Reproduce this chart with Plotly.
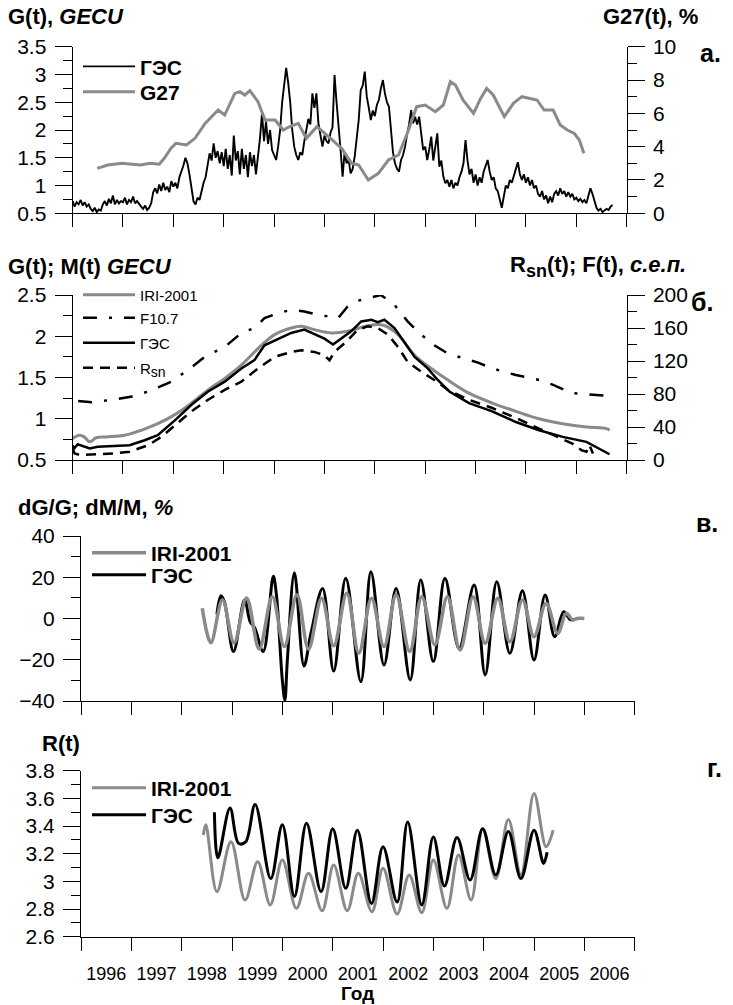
import plotly.graph_objects as go

W, H = 733, 1005
def fx(p): return p / W
def fy(p): return 1 - p / H

FONT = "Liberation Sans, Arial, sans-serif"
GRAY = "#8a8a8a"

# ---------------- panel а ----------------
a_ges_start = 1996.0
a_ges_step = 0.04
a_ges_vals = [
    0.72, 0.62, 0.70, 0.66, 0.74, 0.64, 0.70, 0.62, 0.66, 0.58, 0.54, 0.60, 0.52, 0.57, 0.55, 0.66, 0.72, 0.64, 0.76, 0.68, 0.82, 0.66, 0.74, 0.68, 0.72,
    0.70, 0.78, 0.66, 0.74, 0.70, 0.80, 0.68, 0.72, 0.66, 0.62, 0.58, 0.64, 0.56, 0.60, 0.68, 0.88, 0.95, 0.86, 1.02, 0.90, 1.05, 0.92, 0.98, 0.88, 1.08,
    0.98, 1.05, 0.95, 1.15, 1.25, 1.36, 1.50, 1.40, 1.20, 0.95, 0.72, 0.66, 0.78, 0.74, 0.90, 1.05, 1.15, 1.35, 1.58, 1.45, 1.76, 1.50, 1.62, 1.40, 1.60,
    1.35, 1.66, 1.30, 1.55, 1.18, 1.90, 1.45, 1.62, 1.20, 1.66, 1.30, 1.55, 1.15, 1.60, 1.35, 1.55, 1.20, 1.50, 1.85, 2.30, 1.80, 2.15, 1.75, 2.00, 1.64,
    1.55, 1.46, 1.70, 2.00, 2.50, 2.80, 3.12, 2.85, 2.50, 2.00, 1.70, 1.55, 1.46, 1.60, 1.55, 1.80, 2.00, 2.20, 2.10, 2.66, 2.40, 2.66, 2.12, 1.90, 1.70,
    1.90, 1.80, 1.76, 1.95, 2.05, 2.99, 2.50, 2.12, 1.64, 1.16, 1.60, 1.40, 1.46, 1.22, 1.30, 1.52, 1.80, 2.18, 2.72, 2.80, 3.05, 2.60, 2.40, 2.18, 2.35,
    2.25, 2.45, 2.54, 2.75, 2.90, 2.66, 2.50, 2.42, 1.95, 1.60, 1.40, 1.30, 1.25, 1.46, 1.55, 1.70, 1.92, 2.10, 2.36, 2.12, 2.24, 2.10, 2.24, 1.88, 1.64,
    1.70, 1.46, 1.65, 1.88, 1.45, 1.70, 1.94, 1.34, 1.45, 1.16, 1.04, 1.10, 0.98, 1.10, 0.95, 1.05, 1.00, 1.15, 1.25, 1.40, 1.82, 1.45, 1.20, 1.30, 1.05,
    1.20, 1.00, 1.15, 1.05, 1.25, 1.35, 1.46, 1.25, 1.10, 1.15, 0.95, 0.90, 0.75, 0.60, 0.80, 1.00, 0.95, 1.10, 1.05, 1.20, 1.30, 1.42, 1.20, 1.10, 1.20,
    1.05, 1.15, 1.00, 1.10, 0.95, 1.00, 0.85, 0.80, 0.90, 0.75, 0.82, 0.68, 0.80, 0.70, 0.85, 0.90, 0.82, 0.95, 0.85, 0.90, 0.80, 0.88, 0.80, 0.85, 0.75,
    0.78, 0.72, 0.76, 0.70, 0.74, 0.68, 0.80, 0.95, 0.85, 0.70, 0.60, 0.55, 0.58, 0.52, 0.55, 0.58, 0.56, 0.62, 0.65,
]
a_ges_years = [round(a_ges_start + i * a_ges_step, 3) for i in range(len(a_ges_vals))]

a_g27_years = [1996.49, 1996.70, 1996.98, 1997.16, 1997.35, 1997.54, 1997.72, 1997.82, 1997.95, 1998.05,
               1998.26, 1998.43, 1998.63, 1998.89, 1999.02, 1999.22, 1999.32, 1999.42, 1999.52, 1999.68,
               1999.82, 2000.02, 2000.18, 2000.31, 2000.48, 2000.64, 2000.85, 2001.08, 2001.34, 2001.54,
               2001.68, 2001.87, 2002.07, 2002.27, 2002.47, 2002.67, 2002.83, 2003.00, 2003.20, 2003.36,
               2003.50, 2003.60, 2003.75, 2003.96, 2004.10, 2004.22, 2004.35, 2004.57, 2004.75, 2004.92,
               2005.05, 2005.22, 2005.36, 2005.54, 2005.68, 2005.82, 2005.96, 2006.06, 2006.15]
a_g27_vals = [2.7, 2.9, 3.0, 2.95, 2.9, 3.0, 2.95, 3.3, 3.9, 4.2,
              4.1, 4.5, 5.4, 6.2, 5.9, 7.2, 7.3, 7.1, 7.36, 6.7,
              5.6, 5.6, 5.0, 5.2, 5.4, 4.5, 5.2, 4.6, 3.9, 3.0,
              2.9, 2.0, 2.4, 3.2, 3.5, 5.0, 6.4, 6.5, 6.1, 6.5,
              7.9, 7.7, 6.8, 6.0, 6.9, 7.5, 7.1, 5.8, 6.6, 7.0,
              6.9, 6.8, 6.2, 6.2, 5.3, 5.0, 4.8, 4.4, 3.6]

# ---------------- panel б ----------------
b_iri_years = [1996.00, 1996.13, 1996.23, 1996.34, 1996.47, 1996.67, 1997.03, 1997.36, 1997.69, 1998.03,
               1998.36, 1998.69, 1999.02, 1999.35, 1999.68, 2000.01, 2000.34, 2000.54, 2000.80, 2001.13,
               2001.46, 2001.80, 2001.99, 2002.19, 2002.46, 2002.79, 2003.12, 2003.45, 2003.87, 2004.33,
               2004.80, 2005.26, 2005.73, 2006.20, 2006.60, 2006.66]
b_iri_vals = [0.76, 0.80, 0.78, 0.72, 0.77, 0.78, 0.80, 0.86, 0.94, 1.05,
              1.19, 1.35, 1.49, 1.65, 1.85, 2.02, 2.10, 2.12, 2.08, 2.04,
              2.06, 2.12, 2.14, 2.13, 2.02, 1.77, 1.61, 1.47, 1.31, 1.19,
              1.09, 1.00, 0.94, 0.90, 0.88, 0.86]

b_ges_years = [1996.00, 1996.03, 1996.10, 1996.20, 1996.34, 1996.50, 1996.83, 1997.13, 1997.43, 1997.69,
               1998.03, 1998.36, 1998.69, 1999.02, 1999.35, 1999.61, 1999.81, 2000.01, 2000.34, 2000.60,
               2000.80, 2001.00, 2001.17, 2001.33, 2001.53, 2001.73, 2001.93, 2002.06, 2002.19, 2002.39,
               2002.59, 2002.79, 2003.05, 2003.25, 2003.48, 2003.87, 2004.33, 2004.80, 2005.26, 2005.73,
               2006.20, 2006.38, 2006.57, 2006.66]
b_ges_vals = [0.68, 0.64, 0.69, 0.67, 0.64, 0.66, 0.67, 0.68, 0.74, 0.80,
              0.98, 1.17, 1.33, 1.45, 1.61, 1.71, 1.89, 1.95, 2.04, 2.08,
              2.02, 1.97, 1.90, 1.97, 2.06, 2.18, 2.20, 2.17, 2.20, 2.10,
              1.93, 1.75, 1.61, 1.47, 1.33, 1.19, 1.09, 0.96, 0.86, 0.78,
              0.72, 0.66, 0.60, 0.57]

b_rsn_years = [1996.00, 1996.04, 1996.15, 1996.50, 1996.83, 1997.13, 1997.50, 1997.76, 1998.03, 1998.36,
               1998.69, 1999.02, 1999.35, 1999.68, 2000.01, 2000.34, 2000.54, 2000.80, 2001.00, 2001.10,
               2001.20, 2001.46, 2001.66, 2001.86, 2002.06, 2002.26, 2002.46, 2002.65, 2002.92, 2003.18,
               2003.45, 2003.87, 2004.33, 2004.80, 2005.26, 2005.64, 2005.92, 2006.10, 2006.20, 2006.26,
               2006.33]
b_rsn_vals = [14, 8, 6, 7, 8, 10, 18, 28, 42, 59,
              73, 85, 95, 111, 125, 131, 133, 131, 127, 121,
              131, 145, 158, 162, 160, 152, 137, 119, 107, 97,
              85, 73, 63, 51, 38, 28, 20, 12, 10, 18,
              8]

b_f107_years = [1996.11, 1996.38, 1996.78, 1997.18, 1997.50, 1997.96, 1998.29, 1998.62, 1999.02, 1999.35,
                1999.61, 1999.81, 2000.08, 2000.34, 2000.60, 2000.87, 2001.07, 2001.27, 2001.46, 2001.66,
                2001.86, 2002.12, 2002.39, 2002.65, 2002.92, 2003.18, 2003.45, 2003.87, 2004.05, 2004.33,
                2004.80, 2005.26, 2005.54, 2005.92, 2006.30, 2006.60]
b_f107_vals = [71.5, 70, 73, 77, 83, 95, 109, 125, 137, 154,
               160, 172, 178, 182, 180, 176, 174, 172, 186, 193,
               196, 200, 188, 168, 152, 139, 129, 121, 118, 111,
               103, 97, 91, 81, 79, 78]

# ---------------- panel в ----------------
c_iri_years = [1998.41, 1998.58, 1998.81, 1999.04, 1999.29, 1999.54, 1999.80, 2000.04, 2000.29, 2000.52,
               2000.78, 2001.02, 2001.28, 2001.52, 2001.77, 2002.02, 2002.26, 2002.53, 2002.77, 2003.03,
               2003.28, 2003.53, 2003.79, 2004.03, 2004.28, 2004.52, 2004.77, 2005.00, 2005.24, 2005.47,
               2005.64, 2005.77, 2005.86, 2006.00]
c_iri_vals = [5.0, -11.7, 9.0, -11.8, 10.0, -14.8, 10.6, -13.6, 11.5, -14.8,
              9.8, -13.2, 12.2, -16.8, 9.8, -13.6, 11.5, -16.0, 10.6, -12.8,
              10.6, -15.3, 10.6, -12.0, 9.8, -11.3, 9.0, -8.8, 7.4, -7.2,
              2.5, -0.7, 0.0, 0.0]

c_ges_years = [1998.70, 1998.78, 1998.85, 1999.03, 1999.25, 1999.36, 1999.45, 1999.62, 1999.82, 1999.88,
               2000.00, 2000.05, 2000.10, 2000.24, 2000.43, 2000.57, 2000.80, 2001.02, 2001.26, 2001.56,
               2001.76, 2002.02, 2002.26, 2002.54, 2002.75, 2003.00, 2003.23, 2003.51, 2003.81, 2004.03,
               2004.26, 2004.52, 2004.77, 2005.00, 2005.22, 2005.41, 2005.59, 2005.72, 2005.80]
c_ges_vals = [2.0, 11.0, 8.0, -16.0, 9.0, -1.5, -4.5, -16.0, 20.5, 12.0,
              -30.0, -39.5, -20.0, 22.2, -23.0, -7.0, 14.6, -25.5, 19.5, -30.6,
              22.7, -22.5, 14.6, -29.8, 18.7, -20.9, 19.5, -14.5, 16.2, -27.4,
              17.8, -16.9, 13.5, -20.1, 11.4, -8.8, 3.3, -0.5, -0.5]

# ---------------- panel г ----------------
d_iri_years = [1998.43, 1998.48, 1998.70, 1998.98, 1999.26, 1999.51, 1999.76, 2000.00, 2000.28, 2000.52,
               2000.79, 2001.02, 2001.29, 2001.51, 2001.78, 2002.00, 2002.28, 2002.52, 2002.77, 2003.00,
               2003.27, 2003.50, 2003.75, 2003.98, 2004.24, 2004.49, 2004.74, 2005.00, 2005.24, 2005.38]
d_iri_vals = [3.335, 3.41, 2.925, 3.287, 2.865, 3.142, 2.83, 3.154, 2.805, 3.058,
              2.788, 3.118, 2.788, 3.058, 2.78, 3.094, 2.764, 3.046, 2.774, 3.154,
              2.805, 3.19, 2.865, 3.38, 3.02, 3.448, 3.046, 3.636, 3.25, 3.37]

d_ges_years = [1998.65, 1998.72, 1998.96, 1999.13, 1999.27, 1999.46, 1999.77, 2000.00, 2000.24, 2000.48,
               2000.77, 2001.00, 2001.26, 2001.49, 2001.77, 2002.00, 2002.28, 2002.49, 2002.77, 2003.00,
               2003.22, 2003.47, 2003.73, 2003.98, 2004.24, 2004.49, 2004.74, 2005.00, 2005.19, 2005.26]
d_ges_vals = [3.50, 3.17, 3.53, 3.275, 3.285, 3.555, 3.02, 3.41, 2.89, 3.42,
              2.925, 3.38, 2.95, 3.37, 2.84, 3.25, 2.85, 3.43, 2.83, 3.32,
              2.966, 3.318, 3.01, 3.38, 3.046, 3.36, 3.02, 3.37, 3.13, 3.21]

year_ticks = list(range(1996, 2008))
year_labels = [str(y) for y in range(1996, 2007)]
year_label_pos = [y + 0.5 for y in range(1996, 2007)]

fig = go.Figure()

def leg(xp, yp, size, bold=True, iw=30):
    return dict(x=fx(xp), y=fy(yp), xanchor="left", yanchor="middle",
                bgcolor="rgba(0,0,0,0)", borderwidth=0,
                font=dict(family=FONT, size=size, color="black",
                          weight="bold" if bold else "normal"),
                itemwidth=iw)

# panel а traces
fig.add_trace(go.Scatter(x=a_g27_years, y=a_g27_vals, name="G27", mode="lines",
                         line=dict(color=GRAY, width=3), xaxis="x", yaxis="y2", legend="legend2"))
fig.add_trace(go.Scatter(x=a_ges_years, y=a_ges_vals, name="ГЭС", mode="lines",
                         line=dict(color="black", width=1.9), xaxis="x", yaxis="y", legend="legend"))

# panel б traces
fig.add_trace(go.Scatter(x=b_iri_years, y=b_iri_vals, name="IRI-2001", mode="lines",
                         line=dict(color=GRAY, width=3, shape="spline"), xaxis="x2", yaxis="y3", legend="legend3"))
fig.add_trace(go.Scatter(x=b_f107_years, y=b_f107_vals, name="F10.7", mode="lines",
                         line=dict(color="black", width=2.5, dash="14px,12px,3px,12px"),
                         xaxis="x2", yaxis="y4", legend="legend4"))
fig.add_trace(go.Scatter(x=b_ges_years, y=b_ges_vals, name="ГЭС", mode="lines",
                         line=dict(color="black", width=2.5), xaxis="x2", yaxis="y3", legend="legend5"))
fig.add_trace(go.Scatter(x=b_rsn_years, y=b_rsn_vals,
                         name="R<sub><span style='font-size:14px'>sn</span></sub>", mode="lines",
                         line=dict(color="black", width=2.5, dash="10px,7px"),
                         xaxis="x2", yaxis="y4", legend="legend6"))

# panel в traces
fig.add_trace(go.Scatter(x=c_ges_years, y=c_ges_vals, name="ГЭС", mode="lines",
                         line=dict(color="black", width=3, shape="spline"), xaxis="x3", yaxis="y5", legend="legend8"))
fig.add_trace(go.Scatter(x=c_iri_years, y=c_iri_vals, name="IRI-2001", mode="lines",
                         line=dict(color=GRAY, width=3.5, shape="spline"), xaxis="x3", yaxis="y5", legend="legend7"))

# panel г traces
fig.add_trace(go.Scatter(x=d_iri_years, y=d_iri_vals, name="IRI-2001", mode="lines",
                         line=dict(color=GRAY, width=3, shape="spline"), xaxis="x4", yaxis="y6", legend="legend9"))
fig.add_trace(go.Scatter(x=d_ges_years, y=d_ges_vals, name="ГЭС", mode="lines",
                         line=dict(color="black", width=3, shape="spline"), xaxis="x4", yaxis="y6", legend="legend10"))

tickfont = dict(family=FONT, size=21, color="black")

def xax(dom, anchor):
    return dict(domain=dom, anchor=anchor, range=[1996, 2007], tickmode="array",
                tickvals=year_ticks, ticks="outside", ticklen=13, tickcolor="black",
                showticklabels=False, showline=True, linecolor="black", linewidth=1,
                showgrid=False, zeroline=False, automargin=False)

def yax(dom, anchor, rng, d, minor_d, side="left", overlay=None):
    a = dict(domain=dom, anchor=anchor, range=rng, tickmode="linear", tick0=rng[0], dtick=d,
             ticks="outside", ticklen=17, tickcolor="black", side=side,
             minor=dict(dtick=minor_d, tick0=rng[0], ticks="outside", ticklen=9, tickcolor="black"),
             showline=True, linecolor="black", linewidth=1, showgrid=False, zeroline=False,
             tickfont=tickfont, ticklabelstandoff=4, automargin=False)
    if overlay:
        a["overlaying"] = overlay
    return a

dom_ab = [fx(72.6), fx(626.7)]
dom_cd = [fx(81), fx(634.7)]

x4 = xax(dom_cd, "y6")
x4.update(tickvals=year_label_pos, ticktext=year_labels, showticklabels=True, ticks="", ticklen=0,
          tickfont=dict(family=FONT, size=18, color="black"), ticklabelstandoff=21,
          minor=dict(tickmode="array", tickvals=year_ticks, ticks="outside", ticklen=13, tickcolor="black"))

fig.update_layout(
    width=W, height=H, margin=dict(l=0, r=0, t=0, b=0, pad=0, autoexpand=False),
    paper_bgcolor="white", plot_bgcolor="white",
    font=dict(family=FONT, color="black"),
    showlegend=True,
    xaxis=xax(dom_ab, "y"),
    xaxis2=xax(dom_ab, "y3"),
    xaxis3=xax(dom_cd, "y5"),
    xaxis4=x4,
    yaxis=yax([fy(213.3), fy(46.7)], "x", [0.5, 3.5], 0.5, 0.25),
    yaxis2=yax([fy(213.3), fy(46.7)], "x", [0, 10], 2, 1, side="right", overlay="y"),
    yaxis3=yax([fy(460), fy(295)], "x2", [0.5, 2.5], 0.5, 0.25),
    yaxis4=yax([fy(460), fy(295)], "x2", [0, 200], 40, 20, side="right", overlay="y3"),
    yaxis5=yax([fy(701), fy(536)], "x3", [-40, 40], 20, 10),
    yaxis6=yax([fy(936.7), fy(770.7)], "x4", [2.6, 3.8], 0.2, 0.1),
    legend=leg(78, 66.7, 21, iw=52),
    legend2=leg(78, 92, 21, iw=52),
    legend3=leg(78, 295, 15, bold=False, iw=52),
    legend4=leg(78, 318, 15, bold=False, iw=52),
    legend5=leg(78, 343, 15, bold=False, iw=52),
    legend6=leg(78, 368, 15, bold=False, iw=52),
    legend7=leg(87, 553, 21, iw=54),
    legend8=leg(87, 575, 21, iw=54),
    legend9=leg(87, 788, 21, iw=54),
    legend10=leg(87, 815, 21, iw=54),
)

def ann(text, xp, yp, size, xanchor="left"):
    fig.add_annotation(text=text, x=fx(xp), y=fy(yp), xref="paper", yref="paper",
                       xanchor=xanchor, yanchor="middle", showarrow=False,
                       font=dict(family=FONT, size=size, color="black"))

ann("<b>G(t), <i>GECU</i></b>", 6, 17, 22)
ann("<b>G27(t), %</b>", 700, 17, 22, xanchor="right")
ann("<b>а.</b>", 698, 53, 25)
ann("<b>G(t); M(t) <i>GECU</i></b>", 6, 266, 22)
ann("<b>R<sub><span style='font-size:18px'>sn</span></sub>(t); F(t), <i>с.е.п.</i></b>", 688, 266, 22, xanchor="right")
ann("<b>б.</b>", 689, 302, 25)
ann("<b>dG/G; dM/M, <i>%</i></b>", 16, 508, 22)
ann("<b>в.</b>", 694, 523, 25)
ann("<b>R(t)</b>", 40, 743, 22)
ann("<b>г.</b>", 705, 768, 25)
ann("<b>Год</b>", 357, 993.5, 19, xanchor="center")

fig.write_html(
    "out.html",
    config={"displayModeBar": False},
    post_script="document.body.style.margin='0px';"
                "document.documentElement.style.overflow='hidden';"
                "document.body.style.overflow='hidden';",
)
